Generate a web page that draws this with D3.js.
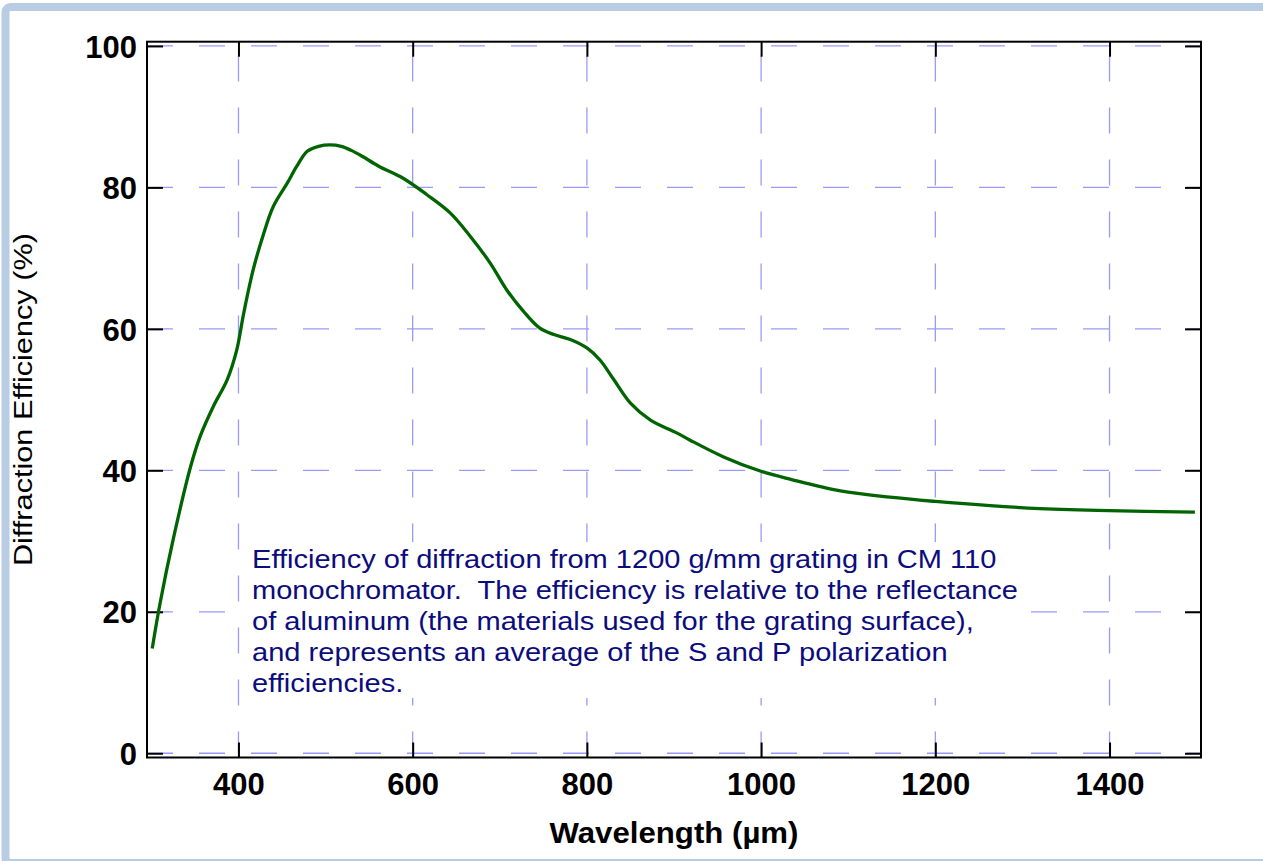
<!DOCTYPE html>
<html>
<head>
<meta charset="utf-8">
<script src="https://cdn.jsdelivr.net/npm/d3@7"></script>
<style>
  html, body { margin: 0; padding: 0; background: #fff; }
  svg { display: block; font-family: "Liberation Sans", Arial, sans-serif; }
</style>
</head>
<body>
<svg id="chart" width="1263" height="861"></svg>
<script>
// ------------------------------
// DONNEES
// ------------------------------
const wavelength = [301, 310, 325, 345, 356, 371, 387, 398, 406, 417, 429, 440, 456, 467, 479, 492, 505,
  518, 530, 542, 561, 589, 616, 643, 666, 689, 708, 727, 746, 762, 781, 800, 815, 831, 850, 873, 903, 918,
  957, 999, 1035, 1091, 1148, 1200, 1263, 1320, 1399, 1498];
const efficiency = [14.8, 21.2, 30.2, 40.5, 44.8, 49.0, 52.8, 57.0, 62.2, 68.4, 73.5, 77.3, 80.6, 83.0, 85.1, 85.8, 86.0,
  85.8, 85.2, 84.4, 83.0, 81.3, 79.0, 76.4, 73.1, 69.3, 65.5, 62.5, 60.1, 59.2, 58.5, 57.3, 55.6, 52.8, 49.5, 47.1, 45.3, 44.3,
  41.9, 39.9, 38.7, 37.1, 36.2, 35.6, 35.0, 34.6, 34.3, 34.1];
const xTicks = [400, 600, 800, 1000, 1200, 1400];
const yTicks = [0, 20, 40, 60, 80, 100];
const xTitle = "Wavelength (\u00b5m)";
const yTitle = "Diffraction Efficiency (%)";
const note = [
  "Efficiency of diffraction from 1200 g/mm grating in CM 110",
  "monochromator.  The efficiency is relative to the reflectance",
  "of aluminum (the materials used for the grating surface),",
  "and represents an average of the S and P polarization",
  "efficiencies."
];

// ------------------------------
// CADRE ET ECHELLES
// ------------------------------
const svg = d3.select("#chart");
const pLeft = 147, pRight = 1201, pTop = 41.7, pBottom = 757.5;

// cadre bleu clair autour de la figure
svg.append("rect")
  .attr("x", 5.5).attr("y", 7).attr("width", 1300).attr("height", 856)
  .attr("rx", 5).attr("fill", "#fff")
  .attr("stroke", "#b8cce4").attr("stroke-width", 8);

const x = d3.scaleLinear().domain([295, 1505]).range([pLeft, pRight]);
const y = d3.scaleLinear().domain([-0.6, 100.6]).range([pBottom, pTop]);

// grille pointillee
const grid = svg.append("g")
  .attr("stroke", "#9a9af8").attr("stroke-width", 1.3).attr("stroke-dasharray", "26,26");
grid.selectAll("line.h").data(yTicks).enter().append("line")
  .attr("class", "h")
  .attr("x1", pLeft).attr("x2", pRight)
  .attr("y1", d => y(d)).attr("y2", d => y(d));
grid.selectAll("line.v").data(xTicks).enter().append("line")
  .attr("class", "v")
  .attr("x1", d => x(d)).attr("x2", d => x(d))
  .attr("y1", pBottom).attr("y2", pTop);

// ------------------------------
// AXES (ticks vers l'interieur)
// ------------------------------
function styleAxis(g) {
  g.select(".domain").remove();
  g.selectAll(".tick line").attr("stroke", "#000").attr("stroke-width", 2);
  g.selectAll(".tick text")
    .attr("fill", "#000").attr("font-size", 31).attr("font-weight", "bold")
    .attr("font-family", "Liberation Sans, Arial, sans-serif");
}

svg.append("g").attr("transform", `translate(0,${pBottom})`)
  .call(d3.axisBottom(x).tickValues(xTicks).tickSize(-15).tickPadding(0).tickFormat(d3.format("d")))
  .call(styleAxis)
  .selectAll(".tick text").attr("y", 37).attr("dy", null);

svg.append("g").attr("transform", `translate(0,${pTop})`)
  .call(d3.axisTop(x).tickValues(xTicks).tickSize(-15).tickFormat(""))
  .call(styleAxis);

svg.append("g").attr("transform", `translate(${pLeft},0)`)
  .call(d3.axisLeft(y).tickValues(yTicks).tickSize(-16).tickPadding(0).tickFormat(d3.format("d")))
  .call(styleAxis)
  .selectAll(".tick text").attr("x", -10).attr("dy", "0.36em");

svg.append("g").attr("transform", `translate(${pRight},0)`)
  .call(d3.axisRight(y).tickValues(yTicks).tickSize(-16).tickFormat(""))
  .call(styleAxis);

// cadre du graphe
svg.append("rect")
  .attr("x", pLeft).attr("y", pTop)
  .attr("width", pRight - pLeft).attr("height", pBottom - pTop)
  .attr("fill", "none").attr("stroke", "#000").attr("stroke-width", 2);

// ------------------------------
// ANNOTATION (fond blanc qui masque la grille)
// ------------------------------
svg.append("rect")
  .attr("x", 245).attr("y", 542).attr("width", 783).attr("height", 156)
  .attr("fill", "#fff");

const noteG = svg.append("g")
  .attr("transform", "translate(252,568) scale(1.118,1)")
  .attr("fill", "#0c0c7c").attr("font-size", 26);
noteG.selectAll("text").data(note).enter().append("text")
  .attr("x", 0).attr("y", (d, i) => i * 31)
  .style("white-space", "pre")
  .text(d => d);

// ------------------------------
// COURBE
// ------------------------------
const pts = wavelength.map((w, i) => [w, efficiency[i]]);
const line = d3.line()
  .x(d => x(d[0])).y(d => y(d[1]))
  .curve(d3.curveCatmullRom.alpha(0.5));

svg.append("path")
  .datum(pts)
  .attr("d", line)
  .attr("fill", "none")
  .attr("stroke", "#006400")
  .attr("stroke-width", 3.3)
  .attr("stroke-linejoin", "round");

// ------------------------------
// TITRES DES AXES
// ------------------------------
svg.append("text")
  .attr("x", (pLeft + pRight) / 2).attr("y", 843)
  .attr("text-anchor", "middle")
  .attr("font-size", 30).attr("font-weight", "bold")
  .attr("textLength", 249).attr("lengthAdjust", "spacingAndGlyphs")
  .text(xTitle);

svg.append("text")
  .attr("transform", `translate(32,${(pTop + pBottom) / 2}) rotate(-90)`)
  .attr("text-anchor", "middle")
  .attr("font-size", 26)
  .attr("textLength", 333).attr("lengthAdjust", "spacingAndGlyphs")
  .text(yTitle);
</script>
</body>
</html>
